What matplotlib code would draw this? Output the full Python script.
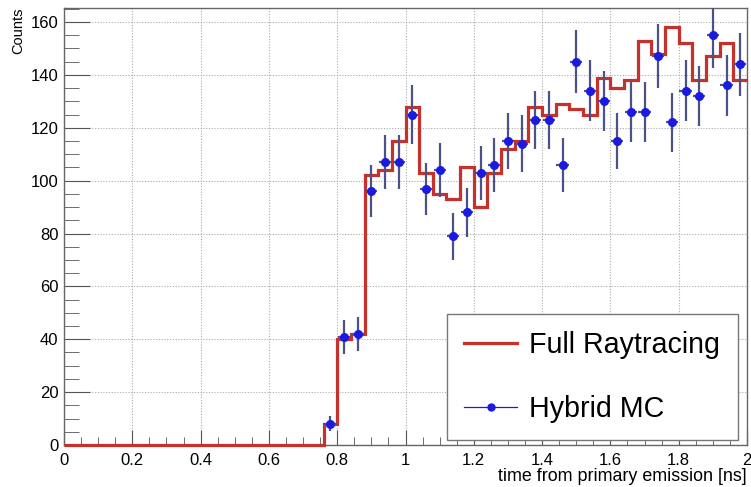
import numpy as np
import matplotlib
matplotlib.use("Agg")
import matplotlib.pyplot as plt
from matplotlib.lines import Line2D
from matplotlib.ticker import MultipleLocator

plt.rcParams['font.family'] = ['Liberation Sans', 'DejaVu Sans']

# binning: 50 bins of 0.04 ns from 0 to 2 ns
t_min, t_max, n_bins = 0.0, 2.0, 50

# Full Raytracing histogram (counts per bin)
raytracing = [0] * 19 + [
    8, 40, 42, 102, 104, 115, 128, 103, 95, 93,
    105, 90, 103, 112, 115, 128, 125, 129, 127, 125,
    139, 135, 138, 153, 148, 158, 152, 138, 147, 152,
    138,
]

# Hybrid MC histogram (counts per bin)
hybrid = [0] * 19 + [
    8, 41, 42, 96, 107, 107, 125, 97, 104, 79,
    88, 103, 106, 115, 114, 123, 123, 106, 145, 134,
    130, 115, 126, 126, 147, 122, 134, 132, 155, 136,
    144,
]

edges = np.linspace(t_min, t_max, n_bins + 1)
centers = 0.5 * (edges[:-1] + edges[1:])
half_width = 0.5 * (edges[1] - edges[0])
raytracing = np.array(raytracing, dtype=float)
hybrid = np.array(hybrid, dtype=float)

fig = plt.figure(figsize=(7.51, 4.87), dpi=100)
ax = fig.add_axes([0.0852, 0.0862, 0.9095, 0.8974])

red = '#c4322b'
blue = '#1a1ae0'

# red step histogram
ax.stairs(raytracing, edges, color=red, lw=2.3, baseline=None, zorder=3, clip_on=False)

# blue points with sqrt(N) errors, empty bins not drawn
mask = hybrid > 0
ax.errorbar(centers[mask], hybrid[mask], yerr=np.sqrt(hybrid[mask]),
            xerr=half_width * 0.9, fmt='none', ecolor='#4c5288', elinewidth=1.6,
            capsize=0, zorder=4)
ax.plot(centers[mask], hybrid[mask], 'o', color=blue, ms=5.5, zorder=5)

ax.set_xlim(t_min, t_max)
ax.set_ylim(0, 165.3)

ax.xaxis.set_major_locator(MultipleLocator(0.2))
ax.xaxis.set_minor_locator(MultipleLocator(0.05))
ax.yaxis.set_major_locator(MultipleLocator(20))
ax.yaxis.set_minor_locator(MultipleLocator(5))
ax.xaxis.set_major_formatter(plt.FuncFormatter(lambda v, p: '%g' % round(v, 2)))

ax.tick_params(axis='both', which='both', direction='in', color='#555555',
               labelsize=12, top=False, right=False)
ax.tick_params(axis='y', which='major', length=19, pad=4)
ax.tick_params(axis='y', which='minor', length=11)
ax.tick_params(axis='x', which='major', length=11, pad=6)
ax.tick_params(axis='x', which='minor', length=6)

ax.grid(True, which='major', color='#aaaaaa', linestyle=(0, (1, 1.5)), lw=0.8)
ax.set_axisbelow(True)

for s in ax.spines.values():
    s.set_color('#666666')
    s.set_linewidth(1.0)

ax.set_xlabel('time from primary emission [ns]', loc='right', fontsize=12.9, labelpad=0)
ax.set_ylabel('Counts', loc='top', fontsize=10.5, labelpad=4)

handles = [Line2D([], [], color=red, lw=2.3),
           Line2D([], [], color=blue, lw=0.9, marker='o', ms=5)]
leg = ax.legend(handles, ['Full Raytracing', 'Hybrid MC'],
                loc='lower left', bbox_to_anchor=(0.561, 0.011, 0.426, 0.302),
                mode='expand', fontsize=20.6, labelspacing=1.25, borderpad=0.6,
                handlelength=1.85, handletextpad=0.4, borderaxespad=0,
                fancybox=False, framealpha=1, edgecolor='#777777')
leg.get_frame().set_linewidth(1.0)
leg.set_zorder(10)

fig.savefig('out.png', dpi=100)
